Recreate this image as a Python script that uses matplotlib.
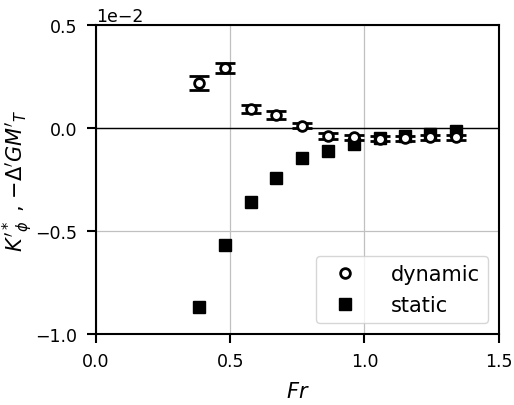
import numpy as np
import matplotlib
matplotlib.use("Agg")
import matplotlib.pyplot as plt
from matplotlib.lines import Line2D

# Froude numbers
fr = [0.384, 0.479, 0.576, 0.672, 0.766, 0.863, 0.960, 1.057, 1.152, 1.246, 1.343]

# dynamic (x 1e-2) with error
dyn = [0.217, 0.291, 0.092, 0.063, 0.011, -0.040, -0.045, -0.053, -0.050, -0.045, -0.045]
dyn_err = [0.035, 0.024, 0.018, 0.018, 0.014, 0.013, 0.012, 0.012, 0.012, 0.012, 0.012]

# static (x 1e-2)
stat = [-0.869, -0.568, -0.361, -0.243, -0.149, -0.113, -0.079, -0.050, -0.038, -0.028, -0.017]

scale = 1e-2

fig = plt.figure(figsize=(5.14, 4.06), dpi=100)
ax = fig.add_axes([0.187, 0.176, 0.783, 0.760])
ax.set_axisbelow(True)

ax.grid(True, color="#c0c0c0", linewidth=0.9)
ax.axhline(0, color="black", linewidth=1.0, zorder=1.8)

ax.plot(fr, np.array(stat) * scale, "s", color="black", ms=9,
        linestyle="none", zorder=2)
ax.errorbar(fr, np.array(dyn) * scale, yerr=np.array(dyn_err) * scale,
            fmt="o", mfc="white", mec="black", ecolor="black", ms=7, mew=2,
            elinewidth=2, capsize=7, capthick=2, zorder=3)

ax.set_xlim(0, 1.5)
ax.set_ylim(-0.01, 0.005)
ax.set_xticks([0, 0.5, 1.0, 1.5])
ax.set_yticks([-0.01, -0.005, 0, 0.005])
ax.ticklabel_format(axis="y", style="sci", scilimits=(0, 0))

ax.set_xlabel("$Fr$", fontsize=15, labelpad=8)
ax.set_ylabel(r"$K'^*_\phi$ , $-\Delta' GM'_T$", fontsize=15, labelpad=0)
ax.tick_params(labelsize=12.5, width=1.5, length=6.5, pad=7)
ax.yaxis.get_offset_text().set_fontsize(12.5)
for s in ax.spines.values():
    s.set_linewidth(1.5)

h_dyn = Line2D([], [], marker="o", mfc="white", mec="black", ms=7, mew=2, linestyle="none")
h_stat = Line2D([], [], marker="s", color="black", ms=9, linestyle="none")
ax.legend([h_dyn, h_stat], ["dynamic", "static"], loc="lower right", fontsize=15,
          handletextpad=1.2)

fig.savefig("out.png", dpi=100)
